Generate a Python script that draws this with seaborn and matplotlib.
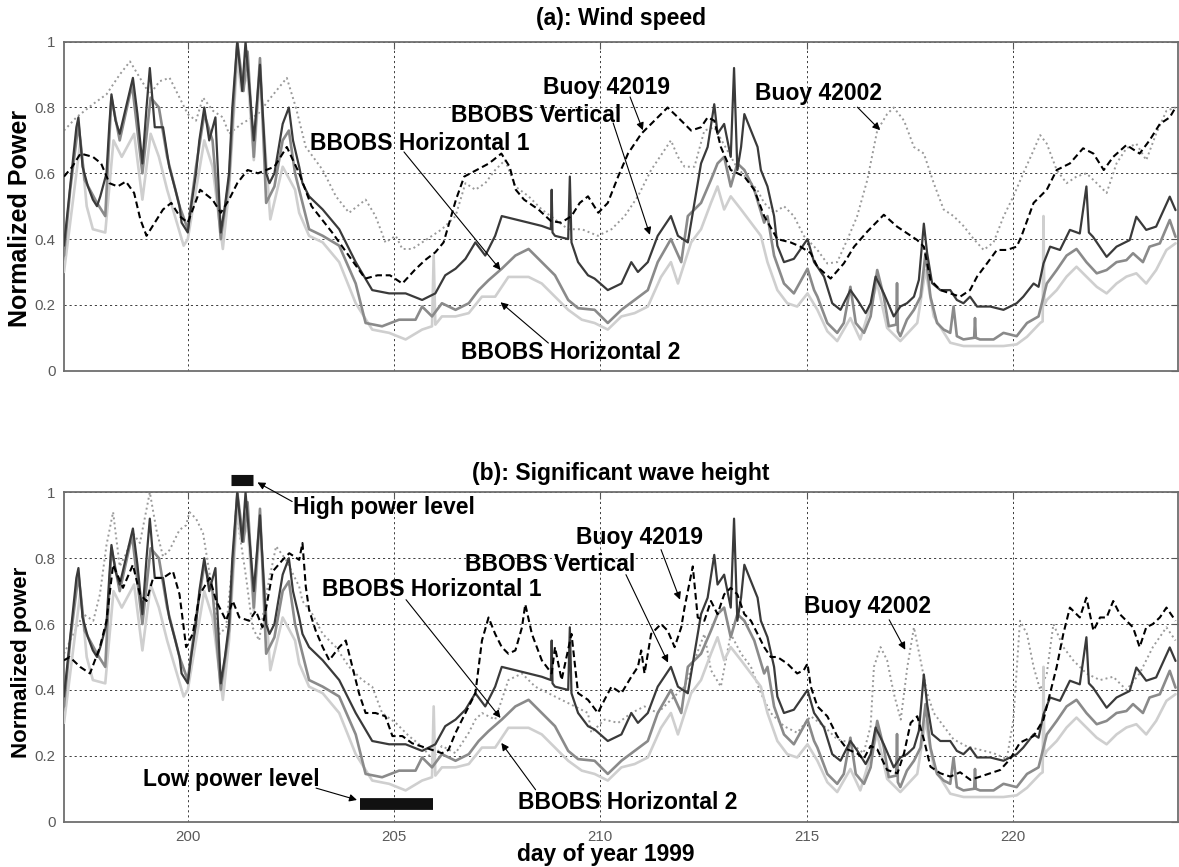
import matplotlib
matplotlib.use("Agg")
import matplotlib.pyplot as plt
import seaborn as sns

# ---------------- data ----------------
# BBOBS seismometer noise power (same in both panels)
vert_day = [197.00, 197.10, 197.20, 197.30, 197.35, 197.45, 197.58, 197.70, 197.80, 197.88,
            198.03, 198.10, 198.15, 198.25, 198.35, 198.50, 198.67, 198.78, 198.90, 199.00,
            199.08, 199.20, 199.40, 199.55, 199.70, 199.80, 199.85, 200.00, 200.08, 200.20,
            200.28, 200.40, 200.52, 200.67, 200.80, 200.90, 201.00, 201.08, 201.20, 201.32,
            201.40, 201.60, 201.75, 201.90, 201.98, 202.10, 202.30, 202.45, 202.55, 202.70,
            202.78, 202.94, 203.27, 203.67, 204.07, 204.47, 204.88, 205.28, 205.68, 206.00,
            206.24, 206.49, 206.73, 206.97, 207.21, 207.45, 207.61, 207.94, 208.26, 208.58,
            208.80, 208.82, 208.84, 208.90, 209.22, 209.26, 209.30, 209.46, 209.70, 209.86,
            210.18, 210.51, 210.75, 210.91, 211.15, 211.39, 211.71, 211.88, 212.12, 212.28,
            212.44, 212.60, 212.76, 212.84, 213.00, 213.16, 213.24, 213.32, 213.41, 213.49,
            213.65, 213.81, 213.89, 214.05, 214.21, 214.29, 214.45, 214.69, 215.02, 215.18,
            215.26, 215.42, 215.62, 215.82, 216.06, 216.23, 216.43, 216.55, 216.67, 216.87,
            217.11, 217.27, 217.43, 217.60, 217.72, 217.84, 217.92, 218.04, 218.24, 218.48,
            218.64, 218.80, 218.96, 219.13, 219.45, 219.77, 220.09, 220.25, 220.50, 220.62,
            220.74, 220.90, 221.14, 221.38, 221.62, 221.78, 221.84, 221.94, 222.27, 222.51,
            222.83, 222.99, 223.23, 223.47, 223.80, 223.94]
vert_val = [0.38, 0.50, 0.62, 0.74, 0.77, 0.62, 0.56, 0.52, 0.50, 0.53,
            0.60, 0.75, 0.84, 0.76, 0.72, 0.80, 0.89, 0.78, 0.63, 0.80,
            0.92, 0.74, 0.74, 0.62, 0.55, 0.50, 0.45, 0.42, 0.50, 0.60,
            0.70, 0.80, 0.70, 0.77, 0.42, 0.50, 0.60, 0.80, 1.00, 0.85,
            1.00, 0.70, 0.93, 0.60, 0.57, 0.60, 0.75, 0.80, 0.70, 0.62,
            0.57, 0.53, 0.49, 0.43, 0.33, 0.245, 0.235, 0.235, 0.215, 0.235,
            0.29, 0.31, 0.34, 0.39, 0.35, 0.41, 0.47, 0.46, 0.45, 0.44,
            0.43, 0.55, 0.42, 0.41, 0.40, 0.59, 0.39, 0.33, 0.29, 0.28,
            0.245, 0.265, 0.33, 0.30, 0.33, 0.41, 0.47, 0.41, 0.39, 0.51,
            0.63, 0.68, 0.81, 0.72, 0.75, 0.65, 0.92, 0.61, 0.68, 0.78,
            0.73, 0.68, 0.61, 0.56, 0.47, 0.38, 0.33, 0.34, 0.40, 0.33,
            0.316, 0.286, 0.205, 0.185, 0.245, 0.215, 0.175, 0.205, 0.286, 0.235,
            0.165, 0.195, 0.205, 0.225, 0.276, 0.447, 0.357, 0.266, 0.245, 0.245,
            0.215, 0.205, 0.225, 0.195, 0.195, 0.185, 0.205, 0.225, 0.265, 0.255,
            0.326, 0.377, 0.367, 0.428, 0.417, 0.56, 0.42, 0.407, 0.346, 0.377,
            0.397, 0.468, 0.428, 0.438, 0.529, 0.488]

h1_day = [197.00, 197.15, 197.35, 197.50, 197.80, 198.00, 198.15, 198.35, 198.65, 198.90,
          199.10, 199.30, 199.50, 199.80, 200.00, 200.20, 200.40, 200.60, 200.80, 201.00,
          201.20, 201.35, 201.45, 201.60, 201.75, 201.90, 202.10, 202.30, 202.45, 202.60,
          202.70, 202.94, 203.27, 203.67, 204.07, 204.31, 204.71, 205.12, 205.52, 205.68,
          205.92, 206.16, 206.49, 206.81, 207.05, 207.29, 207.61, 207.94, 208.26, 208.58,
          208.90, 209.22, 209.46, 209.86, 210.18, 210.51, 210.83, 211.15, 211.39, 211.71,
          211.96, 212.12, 212.44, 212.68, 212.84, 213.00, 213.16, 213.32, 213.49, 213.73,
          213.97, 214.05, 214.21, 214.45, 214.69, 215.02, 215.18, 215.26, 215.50, 215.74,
          215.90, 216.06, 216.19, 216.39, 216.55, 216.71, 216.87, 216.99, 217.17, 217.19,
          217.21, 217.27, 217.43, 217.60, 217.76, 217.88, 218.00, 218.16, 218.32, 218.48,
          218.56, 218.64, 218.80, 219.06, 219.08, 219.10, 219.20, 219.53, 219.77, 220.09,
          220.34, 220.62, 220.82, 221.06, 221.30, 221.54, 221.78, 222.03, 222.27, 222.51,
          222.75, 222.91, 223.15, 223.31, 223.56, 223.80, 223.94]
h1_val = [0.35, 0.55, 0.75, 0.58, 0.51, 0.47, 0.83, 0.70, 0.87, 0.60,
          0.83, 0.80, 0.65, 0.50, 0.43, 0.62, 0.78, 0.70, 0.40, 0.58,
          1.00, 0.85, 0.97, 0.65, 0.95, 0.51, 0.56, 0.70, 0.73, 0.60,
          0.55, 0.43, 0.41, 0.38, 0.265, 0.145, 0.135, 0.155, 0.155, 0.195,
          0.165, 0.205, 0.185, 0.205, 0.245, 0.275, 0.31, 0.35, 0.37, 0.33,
          0.29, 0.215, 0.19, 0.185, 0.145, 0.185, 0.215, 0.245, 0.33, 0.40,
          0.33, 0.47, 0.51, 0.58, 0.63, 0.65, 0.56, 0.63, 0.61, 0.55,
          0.45, 0.47, 0.35, 0.265, 0.235, 0.31, 0.245, 0.225, 0.145, 0.115,
          0.145, 0.255, 0.145, 0.115, 0.165, 0.306, 0.225, 0.135, 0.14, 0.266,
          0.12, 0.105, 0.155, 0.185, 0.225, 0.357, 0.225, 0.145, 0.125, 0.115,
          0.195, 0.105, 0.095, 0.10, 0.16, 0.10, 0.095, 0.095, 0.115, 0.105,
          0.145, 0.165, 0.265, 0.306, 0.35, 0.37, 0.33, 0.296, 0.306, 0.33,
          0.336, 0.357, 0.33, 0.377, 0.387, 0.458, 0.407]

h2_day = [197.00, 197.20, 197.40, 197.55, 197.70, 198.00, 198.20, 198.40, 198.70, 198.90,
          199.10, 199.30, 199.50, 199.90, 200.00, 200.20, 200.40, 200.60, 200.85, 201.00,
          201.20, 201.30, 201.45, 201.60, 201.75, 202.00, 202.30, 202.60, 202.70, 202.94,
          203.27, 203.67, 204.07, 204.47, 204.88, 205.28, 205.68, 205.92, 205.96, 206.00,
          206.16, 206.49, 206.81, 207.13, 207.45, 207.77, 208.26, 208.58, 208.90, 209.22,
          209.55, 209.86, 210.18, 210.51, 210.83, 211.15, 211.47, 211.71, 211.88, 212.20,
          212.44, 212.68, 212.84, 213.00, 213.16, 213.41, 213.65, 213.89, 214.05, 214.29,
          214.53, 214.77, 215.02, 215.26, 215.50, 215.74, 216.06, 216.30, 216.71, 216.95,
          217.27, 217.68, 217.88, 218.08, 218.48, 218.80, 219.29, 219.77, 220.09, 220.34,
          220.66, 220.72, 220.74, 220.76, 220.82, 221.06, 221.30, 221.54, 221.78, 222.03,
          222.27, 222.51, 222.75, 222.99, 223.23, 223.47, 223.72, 223.94]
h2_val = [0.30, 0.50, 0.70, 0.50, 0.43, 0.42, 0.70, 0.65, 0.72, 0.52,
          0.72, 0.65, 0.55, 0.38, 0.40, 0.55, 0.70, 0.62, 0.37, 0.55,
          0.95, 0.85, 0.90, 0.64, 0.90, 0.46, 0.62, 0.55, 0.48, 0.41,
          0.39, 0.33, 0.205, 0.125, 0.115, 0.095, 0.125, 0.135, 0.35, 0.14,
          0.165, 0.165, 0.175, 0.225, 0.225, 0.285, 0.285, 0.265, 0.225, 0.185,
          0.155, 0.145, 0.125, 0.165, 0.175, 0.195, 0.285, 0.33, 0.265, 0.39,
          0.43, 0.51, 0.56, 0.49, 0.53, 0.49, 0.45, 0.41, 0.33, 0.245,
          0.205, 0.195, 0.235, 0.185, 0.12, 0.09, 0.16, 0.095, 0.266, 0.13,
          0.09, 0.145, 0.306, 0.165, 0.085, 0.075, 0.075, 0.075, 0.08, 0.103,
          0.145, 0.15, 0.47, 0.20, 0.215, 0.245, 0.286, 0.316, 0.286, 0.255,
          0.235, 0.265, 0.286, 0.296, 0.265, 0.306, 0.367, 0.387]

# Buoy curves, panel (a): wind speed
wind19_day = [197.00, 197.20, 197.40, 197.70, 197.90, 198.10, 198.30, 198.50, 198.70, 198.85,
              199.00, 199.20, 199.40, 199.60, 199.80, 200.00, 200.30, 200.60, 200.80, 201.00,
              201.20, 201.45, 201.70, 201.90, 202.10, 202.40, 202.70, 203.00, 203.50, 203.90,
              204.30, 204.60, 204.90, 205.20, 205.50, 205.75, 206.00, 206.20, 206.50, 206.70,
              207.00, 207.30, 207.60, 207.80, 207.95, 208.15, 208.50, 208.80, 209.05, 209.30,
              209.50, 209.70, 209.95, 210.18, 210.43, 210.67, 210.99, 211.31, 211.63, 211.88,
              212.20, 212.44, 212.60, 212.76, 212.92, 213.16, 213.49, 213.73, 213.97, 214.29,
              214.61, 214.85, 215.10, 215.26, 215.58, 215.90, 216.15, 216.47, 216.87, 217.19,
              217.43, 217.68, 217.84, 218.00, 218.24, 218.48, 218.72, 218.96, 219.13, 219.37,
              219.61, 219.85, 220.09, 220.20, 220.50, 220.82, 221.06, 221.38, 221.70, 221.95,
              222.20, 222.43, 222.75, 223.07, 223.31, 223.56, 223.80, 223.94]
wind19_val = [0.59, 0.62, 0.66, 0.65, 0.63, 0.57, 0.56, 0.575, 0.54, 0.46,
              0.41, 0.45, 0.49, 0.51, 0.47, 0.45, 0.55, 0.52, 0.48, 0.52,
              0.57, 0.61, 0.60, 0.61, 0.62, 0.68, 0.60, 0.50, 0.42, 0.35,
              0.28, 0.29, 0.29, 0.265, 0.306, 0.336, 0.36, 0.39, 0.52, 0.59,
              0.61, 0.63, 0.66, 0.62, 0.55, 0.52, 0.49, 0.455, 0.45, 0.47,
              0.51, 0.53, 0.48, 0.51, 0.59, 0.66, 0.72, 0.76, 0.80, 0.77,
              0.73, 0.74, 0.77, 0.76, 0.68, 0.61, 0.59, 0.55, 0.47, 0.40,
              0.39, 0.377, 0.357, 0.316, 0.28, 0.326, 0.377, 0.423, 0.474, 0.438,
              0.418, 0.397, 0.377, 0.276, 0.245, 0.235, 0.225, 0.245, 0.286, 0.326,
              0.367, 0.367, 0.377, 0.407, 0.51, 0.55, 0.61, 0.63, 0.676, 0.66,
              0.61, 0.65, 0.686, 0.66, 0.70, 0.75, 0.77, 0.80]

wind02_day = [197.00, 197.30, 197.70, 198.03, 198.35, 198.60, 198.84, 199.08, 199.32, 199.56,
              199.80, 200.00, 200.20, 200.37, 200.61, 200.85, 201.00, 201.30, 201.70, 202.01,
              202.40, 202.62, 202.86, 203.27, 203.59, 203.91, 204.31, 204.55, 204.79, 205.04,
              205.20, 205.44, 205.68, 205.92, 206.16, 206.49, 206.73, 206.97, 207.21, 207.45,
              207.69, 207.94, 208.26, 208.58, 208.90, 209.22, 209.55, 209.94, 210.27, 210.59,
              210.91, 211.23, 211.55, 211.71, 211.88, 212.04, 212.28, 212.52, 212.76, 213.30,
              213.80, 213.97, 214.21, 214.45, 214.69, 214.93, 215.26, 215.50, 215.74, 215.98,
              216.22, 216.47, 216.71, 216.95, 217.11, 217.36, 217.60, 217.84, 218.08, 218.32,
              218.56, 218.80, 219.05, 219.29, 219.53, 219.77, 220.01, 220.25, 220.50, 220.66,
              220.82, 221.06, 221.30, 221.54, 221.78, 222.03, 222.27, 222.51, 222.75, 222.99,
              223.23, 223.47, 223.72, 223.94]
wind02_val = [0.73, 0.77, 0.81, 0.84, 0.90, 0.94, 0.89, 0.84, 0.88, 0.89,
              0.83, 0.78, 0.76, 0.83, 0.79, 0.77, 0.72, 0.75, 0.78, 0.83,
              0.89, 0.80, 0.68, 0.61, 0.53, 0.48, 0.52, 0.47, 0.39, 0.41,
              0.37, 0.37, 0.39, 0.41, 0.43, 0.47, 0.57, 0.55, 0.57, 0.61,
              0.64, 0.56, 0.53, 0.49, 0.46, 0.43, 0.43, 0.41, 0.43, 0.47,
              0.53, 0.61, 0.67, 0.70, 0.65, 0.62, 0.62, 0.73, 0.74, 0.62,
              0.55, 0.51, 0.48, 0.50, 0.47, 0.41, 0.367, 0.326, 0.33, 0.397,
              0.468, 0.58, 0.73, 0.78, 0.80, 0.76, 0.68, 0.66, 0.57, 0.49,
              0.47, 0.44, 0.40, 0.367, 0.39, 0.468, 0.53, 0.60, 0.67, 0.716,
              0.69, 0.61, 0.57, 0.59, 0.60, 0.57, 0.54, 0.63, 0.676, 0.69,
              0.64, 0.72, 0.79, 0.80]

# Buoy curves, panel (b): significant wave height
wave19_day = [197.00, 197.14, 197.39, 197.63, 197.87, 198.03, 198.19, 198.43, 198.67, 198.84,
              199.00, 199.16, 199.40, 199.64, 199.80, 199.96, 200.12, 200.29, 200.53, 200.69,
              200.93, 201.09, 201.25, 201.49, 201.65, 201.81, 201.90, 202.06, 202.30, 202.46,
              202.70, 202.78, 202.86, 202.94, 203.10, 203.27, 203.43, 203.67, 203.83, 203.99,
              204.15, 204.31, 204.55, 204.79, 204.96, 205.20, 205.44, 205.68, 205.92, 206.16,
              206.32, 206.49, 206.73, 206.97, 207.13, 207.29, 207.45, 207.61, 207.77, 207.94,
              208.10, 208.18, 208.34, 208.58, 208.82, 208.90, 209.06, 209.30, 209.46, 209.70,
              209.94, 210.10, 210.27, 210.51, 210.75, 210.91, 210.99, 211.07, 211.23, 211.47,
              211.63, 211.80, 211.96, 212.04, 212.24, 212.36, 212.52, 212.68, 212.84, 213.00,
              213.16, 213.32, 213.49, 213.65, 213.81, 213.97, 214.13, 214.29, 214.53, 214.77,
              214.93, 215.02, 215.10, 215.26, 215.50, 215.74, 215.98, 216.22, 216.38, 216.55,
              216.71, 216.95, 217.20, 217.36, 217.52, 217.68, 217.84, 218.00, 218.24, 218.48,
              218.72, 218.97, 219.21, 219.45, 219.69, 219.93, 220.17, 220.50, 220.74, 220.90,
              221.06, 221.22, 221.38, 221.62, 221.78, 221.95, 222.11, 222.27, 222.43, 222.59,
              222.75, 222.91, 223.07, 223.23, 223.39, 223.56, 223.72, 223.94]
wave19_val = [0.49, 0.50, 0.47, 0.45, 0.53, 0.61, 0.78, 0.71, 0.78, 0.69,
              0.67, 0.74, 0.74, 0.76, 0.69, 0.53, 0.57, 0.69, 0.74, 0.67,
              0.61, 0.67, 0.62, 0.61, 0.64, 0.59, 0.65, 0.76, 0.795, 0.815,
              0.795, 0.846, 0.714, 0.643, 0.58, 0.53, 0.49, 0.53, 0.55, 0.47,
              0.39, 0.33, 0.33, 0.32, 0.26, 0.26, 0.238, 0.228, 0.218, 0.208,
              0.218, 0.27, 0.33, 0.39, 0.55, 0.62, 0.57, 0.53, 0.51, 0.52,
              0.59, 0.66, 0.57, 0.49, 0.45, 0.53, 0.43, 0.57, 0.39, 0.37,
              0.33, 0.37, 0.41, 0.39, 0.44, 0.47, 0.52, 0.45, 0.57, 0.60,
              0.58, 0.53, 0.59, 0.65, 0.775, 0.62, 0.61, 0.67, 0.63, 0.69,
              0.71, 0.69, 0.63, 0.61, 0.57, 0.53, 0.50, 0.50, 0.48, 0.45,
              0.46, 0.48, 0.41, 0.35, 0.32, 0.26, 0.22, 0.208, 0.19, 0.23,
              0.22, 0.157, 0.147, 0.208, 0.30, 0.32, 0.25, 0.167, 0.147, 0.137,
              0.15, 0.127, 0.137, 0.147, 0.157, 0.19, 0.24, 0.26, 0.31, 0.39,
              0.47, 0.57, 0.65, 0.62, 0.68, 0.58, 0.62, 0.62, 0.67, 0.63,
              0.61, 0.59, 0.53, 0.59, 0.60, 0.62, 0.65, 0.61]

wave02_day = [197.00, 197.23, 197.47, 197.71, 197.87, 198.03, 198.19, 198.35, 198.51, 198.67,
              198.84, 199.08, 199.24, 199.40, 199.56, 199.80, 199.96, 200.04, 200.20, 200.37,
              200.61, 200.77, 200.93, 201.09, 201.17, 201.41, 201.57, 201.73, 201.90, 202.14,
              202.38, 202.70, 202.78, 203.02, 203.27, 203.59, 203.91, 204.23, 204.47, 204.71,
              205.04, 205.36, 205.68, 205.92, 206.16, 206.49, 206.81, 206.97, 207.13, 207.45,
              207.77, 208.10, 208.42, 208.74, 209.06, 209.38, 209.70, 209.78, 210.10, 210.43,
              210.75, 211.07, 211.39, 211.71, 212.04, 212.28, 212.52, 212.68, 212.92, 213.16,
              213.41, 213.65, 213.89, 214.13, 214.45, 214.77, 215.10, 215.42, 215.74, 216.06,
              216.38, 216.55, 216.63, 216.79, 216.95, 217.11, 217.28, 217.44, 217.60, 217.76,
              217.92, 218.08, 218.32, 218.56, 218.89, 219.21, 219.53, 219.85, 220.01, 220.17,
              220.34, 220.50, 220.66, 220.82, 220.98, 221.22, 221.46, 221.78, 222.11, 222.43,
              222.75, 223.07, 223.39, 223.72, 223.94]
wave02_val = [0.51, 0.57, 0.63, 0.61, 0.69, 0.84, 0.94, 0.775, 0.815, 0.876,
              0.846, 1.00, 0.886, 0.805, 0.825, 0.886, 0.90, 0.94, 0.92, 0.876,
              0.69, 0.57, 0.59, 0.795, 0.947, 0.745, 0.59, 0.55, 0.69, 0.836,
              0.795, 0.714, 0.67, 0.63, 0.57, 0.53, 0.47, 0.43, 0.41, 0.33,
              0.30, 0.26, 0.228, 0.19, 0.23, 0.208, 0.27, 0.31, 0.33, 0.31,
              0.43, 0.45, 0.41, 0.39, 0.37, 0.35, 0.33, 0.27, 0.31, 0.30,
              0.33, 0.35, 0.33, 0.37, 0.41, 0.49, 0.57, 0.46, 0.41, 0.57,
              0.51, 0.47, 0.39, 0.33, 0.29, 0.27, 0.32, 0.29, 0.25, 0.24,
              0.208, 0.29, 0.47, 0.53, 0.49, 0.39, 0.31, 0.47, 0.59, 0.49,
              0.39, 0.33, 0.29, 0.25, 0.228, 0.218, 0.208, 0.19, 0.31, 0.61,
              0.57, 0.47, 0.40, 0.45, 0.60, 0.53, 0.49, 0.45, 0.43, 0.44,
              0.40, 0.45, 0.53, 0.59, 0.55]

# marked time windows in panel (b)
high_power_span = [201.05, 201.58]
low_power_span = [204.17, 205.94]

x_ticks = [200, 205, 210, 215, 220]
y_ticks = [0, 0.2, 0.4, 0.6, 0.8, 1.0]
y_tick_labels = ["0", "0.2", "0.4", "0.6", "0.8", "1"]

# ---------------- style ----------------
sns.set_style("white")
plt.rcParams["font.family"] = ["Liberation Sans", "DejaVu Sans"]
plt.rcParams["text.color"] = "black"

C_VERT = "#3a3a3a"
C_H1 = "#8a8a8a"
C_H2 = "#cfcfcf"
C_B02 = "#9a9a9a"
TXT = 16.5

W, H = 1179, 867
fig = plt.figure(figsize=(W / 100, H / 100), dpi=100)
left = 64 / W
width = (1178 - 64) / W
ax_a = fig.add_axes([left, 1 - 370.7 / H, width, 329 / H])
ax_b = fig.add_axes([left, 1 - 821.7 / H, width, 329.4 / H])


def draw_panel(ax, b19_day, b19_val, b02_day, b02_val):
    sns.lineplot(x=b02_day, y=b02_val, ax=ax, color=C_B02, lw=1.4,
                 linestyle=(0, (1, 1.6)), sort=False, zorder=2)
    sns.lineplot(x=h2_day, y=h2_val, ax=ax, color=C_H2, lw=1.9, sort=False, zorder=3)
    sns.lineplot(x=h1_day, y=h1_val, ax=ax, color=C_H1, lw=1.9, sort=False, zorder=4)
    sns.lineplot(x=vert_day, y=vert_val, ax=ax, color=C_VERT, lw=1.6, sort=False, zorder=5)
    sns.lineplot(x=b19_day, y=b19_val, ax=ax, color="black", lw=1.5,
                 linestyle=(0, (3.2, 1.8)), sort=False, zorder=6)
    ax.set_xlim(197, 224)
    ax.set_ylim(0, 1)
    ax.set_xticks(x_ticks)
    ax.set_yticks(y_ticks)
    ax.set_yticklabels(y_tick_labels)
    ax.grid(True, color="#3c3c3c", lw=0.7, linestyle=(0, (2.2, 3)))
    ax.set_axisbelow(True)
    for s in ax.spines.values():
        s.set_color("#6e6e6e")
        s.set_linewidth(1.3)
    ax.tick_params(direction="in", length=5, width=0.8, color="#555555",
                   labelsize=10.8, labelcolor="#5a5a5a", top=True, right=True,
                   pad=6)
    ax.set_xlabel("")
    ax.set_ylabel("")


draw_panel(ax_a, wind19_day, wind19_val, wind02_day, wind02_val)
draw_panel(ax_b, wave19_day, wave19_val, wave02_day, wave02_val)
ax_a.tick_params(labelbottom=False)

ax_a.text(0.5, 1.072, "(a): Wind speed", transform=ax_a.transAxes,
          ha="center", va="center", fontsize=TXT, fontweight="bold", color="black")
ax_b.text(0.5, 1.058, "(b): Significant wave height", transform=ax_b.transAxes,
          ha="center", va="center", fontsize=TXT, fontweight="bold", color="black")
fig.text(20 / W, 1 - 218 / H, "Normalized Power", rotation=90,
         ha="center", va="center", fontsize=18, fontweight="bold", color="black")
fig.text(22 / W, 1 - 662 / H, "Normalized power", rotation=90,
         ha="center", va="center", fontsize=16, fontweight="bold", color="black")
fig.text(606 / W, 1 - 855 / H, "day of year 1999",
         ha="center", va="center", fontsize=TXT, fontweight="bold", color="black")

arrow = dict(arrowstyle="-|>", color="black", lw=0.8, mutation_scale=11,
             shrinkA=0, shrinkB=0)


def label(ax, text, pos, start, end):
    ax.text(pos[0], pos[1], text, ha="center", va="center",
            fontsize=TXT, fontweight="bold", color="black", zorder=10)
    ax.annotate("", xy=end, xytext=start, arrowprops=arrow, zorder=10,
                annotation_clip=False)


label(ax_a, "Buoy 42019", (210.14, 0.862), (210.72, 0.832), (211.03, 0.731))
label(ax_a, "BBOBS Vertical", (208.45, 0.777), (210.31, 0.753), (211.2, 0.413))
label(ax_a, "BBOBS Horizontal 1", (205.62, 0.692), (205.24, 0.665), (207.58, 0.306))
label(ax_a, "BBOBS Horizontal 2", (209.27, 0.054), (208.74, 0.084), (207.58, 0.208))
label(ax_a, "Buoy 42002", (215.29, 0.844), (216.23, 0.801), (216.78, 0.731))

label(ax_b, "High power level", (204.75, 0.953), (202.53, 0.972), (201.69, 1.03))
label(ax_b, "Buoy 42019", (210.94, 0.862), (211.47, 0.826), (211.93, 0.674))
label(ax_b, "BBOBS Vertical", (208.79, 0.780), (210.62, 0.75), (211.64, 0.483))
label(ax_b, "BBOBS Horizontal 1", (205.91, 0.704), (205.29, 0.674), (207.58, 0.315))
label(ax_b, "BBOBS Horizontal 2", (210.67, 0.057), (208.43, 0.097), (207.6, 0.239))
label(ax_b, "Buoy 42002", (216.47, 0.652), (217.0, 0.613), (217.39, 0.522))
label(ax_b, "Low power level", (201.06, 0.127), (203.11, 0.102), (204.1, 0.066))

# black bars marking the high / low power windows
ax_b.plot(high_power_span, [1.037, 1.037], color="#111111", lw=8,
          solid_capstyle="butt", clip_on=False, zorder=10)
ax_b.plot(low_power_span, [0.054, 0.054], color="#111111", lw=8.5,
          solid_capstyle="butt", zorder=10)

fig.savefig("out.png", dpi=100)
